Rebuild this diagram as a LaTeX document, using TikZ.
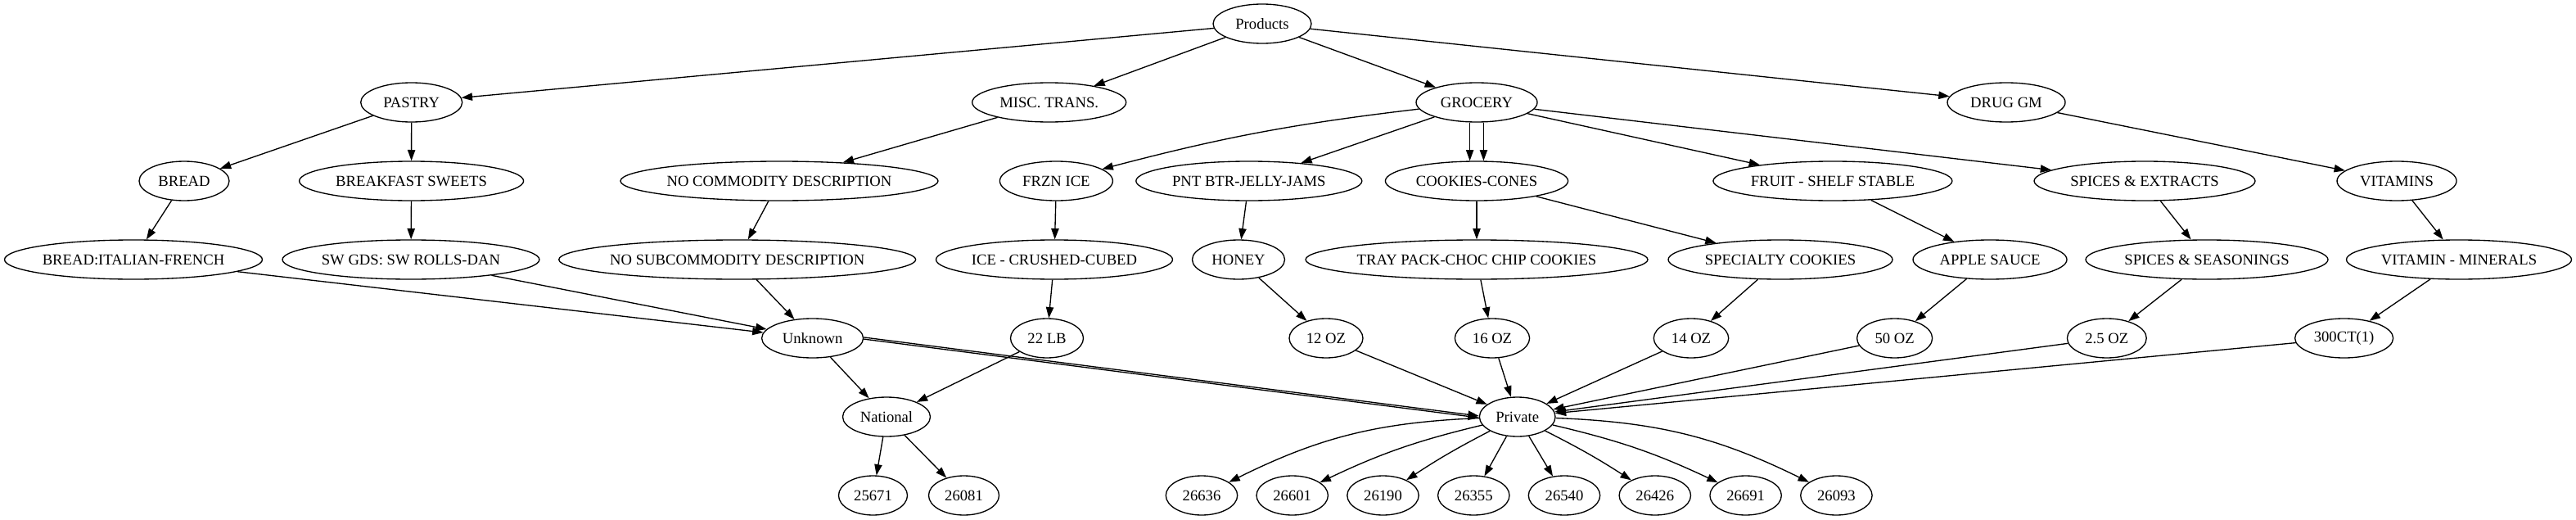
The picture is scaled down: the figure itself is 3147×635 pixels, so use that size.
\documentclass[tikz,border=0pt]{standalone}
\usepackage{fontspec}
\setmainfont{Liberation Serif}
\usetikzlibrary{arrows.meta,shapes.geometric}
\tikzset{
  gv/.style={draw, ellipse, line width=1pt, inner sep=0pt, minimum height=36pt, font=\fontsize{14pt}{16pt}\selectfont},
  edge/.style={line width=1pt, -{Triangle[length=10pt,width=7pt]}}
}
\newcommand\gn[5]{\node[gv, minimum width=#4*1.5pt] (#1) at (#2,-#3) {\makebox[0pt]{#5}};}
\begin{document}
\begin{tikzpicture}[x=0.75pt,y=0.75pt]
\useasboundingbox (0,0) rectangle (3147,-635);
\gn{prod}{1542}{29}{60}{Products}
\gn{pastry}{502.7}{125}{62}{PASTRY}
\gn{misc}{1281.7}{125}{94}{MISC. TRANS.}
\gn{groc}{1804}{125}{74}{GROCERY}
\gn{drug}{2451}{125}{72}{DRUG GM}
\gn{bread}{225}{221}{55}{BREAD}
\gn{bsw}{502.6}{221}{137}{BREAKFAST SWEETS}
\gn{nocom}{952}{221}{194}{NO COMMODITY DESCRIPTION}
\gn{frzn}{1290.4}{221}{69}{FRZN ICE}
\gn{pnt}{1525.8}{221}{138}{PNT BTR-JELLY-JAMS}
\gn{cook}{1804}{221}{111.6}{COOKIES-CONES}
\gn{fruit}{2238.9}{221}{146}{FRUIT - SHELF STABLE}
\gn{spext}{2620}{221}{135}{SPICES \& EXTRACTS}
\gn{vit}{2928}{221}{73}{VITAMINS}
\gn{bif}{163}{317}{157.5}{BREAD:ITALIAN-FRENCH}
\gn{swg}{502}{317}{157}{SW GDS: SW ROLLS-DAN}
\gn{nosub}{900.7}{317}{218}{NO SUBCOMMODITY DESCRIPTION}
\gn{ice}{1288}{317}{144.5}{ICE - CRUSHED-CUBED}
\gn{honey}{1513}{317}{56.5}{HONEY}
\gn{tray}{1804}{317}{209}{TRAY PACK-CHOC CHIP COOKIES}
\gn{spec}{2175}{317}{137}{SPECIALTY COOKIES}
\gn{apple}{2431}{317}{94}{APPLE SAUCE}
\gn{spseas}{2696}{317}{148}{SPICES \& SEASONINGS}
\gn{vitmin}{3004}{317}{137.5}{VITAMIN - MINERALS}
\gn{unk}{992.6}{413}{62}{Unknown}
\gn{lb}{1279}{413}{44.5}{22 LB}
\gn{ozA}{1620}{413}{45}{12 OZ}
\gn{ozB}{1823}{413}{45.6}{16 OZ}
\gn{ozC}{2066}{413}{45.7}{14 OZ}
\gn{ozD}{2314.6}{413}{46}{50 OZ}
\gn{ozE}{2573.8}{413}{48.4}{2.5 OZ}
\gn{ct}{2863.6}{413}{60}{300CT(1)}
\gn{nat}{1083}{509}{53.5}{National}
\gn{priv}{1853.7}{509}{46.3}{Private}
\gn{la}{1066.5}{605}{42}{25671}
\gn{lb2}{1177.5}{605}{43}{26081}
\gn{lc}{1468}{605}{43.7}{26636}
\gn{ld}{1578.7}{605}{43.7}{26601}
\gn{le}{1689.5}{605}{43.7}{26190}
\gn{lf}{1800.3}{605}{43.7}{26355}
\gn{lg}{1911}{605}{43.7}{26540}
\gn{lh}{2021.8}{605}{43.7}{26426}
\gn{li}{2132.6}{605}{43.7}{26691}
\gn{lj}{2243.4}{605}{43.7}{26093}
% edges
\draw[edge] (prod) -- (pastry);
\draw[edge] (prod) -- (misc);
\draw[edge] (prod) -- (groc);
\draw[edge] (prod) -- (drug);
\draw[edge] (pastry) -- (bread);
\draw[edge] (pastry) -- (bsw);
\draw[edge] (misc) -- (nocom);
\draw[edge] (groc) to[bend right=4] (frzn);
\draw[edge] (groc) -- (pnt);
\draw[edge] ([xshift=-6.3pt]groc.south) -- ([xshift=-6.3pt]cook.north);
\draw[edge] ([xshift=6.3pt]groc.south) -- ([xshift=6.3pt]cook.north);
\draw[edge] (groc) -- (fruit);
\draw[edge] (groc) -- (spext);
\draw[edge] (drug) -- (vit);
\draw[edge] (bread) -- (bif);
\draw[edge] (bsw) -- (swg);
\draw[edge] (nocom) -- (nosub);
\draw[edge] (frzn) -- (ice);
\draw[edge] (pnt) -- (honey);
\draw[edge] (cook) -- (tray);
\draw[edge] (cook) -- (spec);
\draw[edge] (fruit) -- (apple);
\draw[edge] (spext) -- (spseas);
\draw[edge] (vit) -- (vitmin);
\draw[edge] (bif) -- (unk);
\draw[edge] (swg) -- (unk);
\draw[edge] (nosub) -- (unk);
\draw[edge] (ice) -- (lb);
\draw[edge] (honey) -- (ozA);
\draw[edge] (tray) -- (ozB);
\draw[edge] (spec) -- (ozC);
\draw[edge] (apple) -- (ozD);
\draw[edge] (spseas) -- (ozE);
\draw[edge] (vitmin) -- (ct);
\draw[edge] (unk) -- (nat);
\draw[edge] (lb) -- (nat);
\draw[edge] ([yshift=0.8pt]unk.east) -- ([yshift=0.8pt]priv.west);
\draw[edge] ([yshift=-0.8pt]unk.east) -- ([yshift=-0.8pt]priv.west);
\draw[edge] (ozA) -- (priv);
\draw[edge] (ozB) -- (priv);
\draw[edge] (ozC) -- (priv);
\draw[edge] (ozD) -- (priv);
\draw[edge] (ozE) -- (priv);
\draw[edge] (ct) -- (priv);
\draw[edge] (nat) -- (la);
\draw[edge] (nat) -- (lb2);
\draw[edge] (priv) to[bend right=12] (lc);
\draw[edge] (priv) to[bend right=6] (ld);
\draw[edge] (priv) to[bend right=3] (le);
\draw[edge] (priv) -- (lf);
\draw[edge] (priv) -- (lg);
\draw[edge] (priv) to[bend left=3] (lh);
\draw[edge] (priv) to[bend left=6] (li);
\draw[edge] (priv) to[bend left=12] (lj);
\end{tikzpicture}
\end{document}
